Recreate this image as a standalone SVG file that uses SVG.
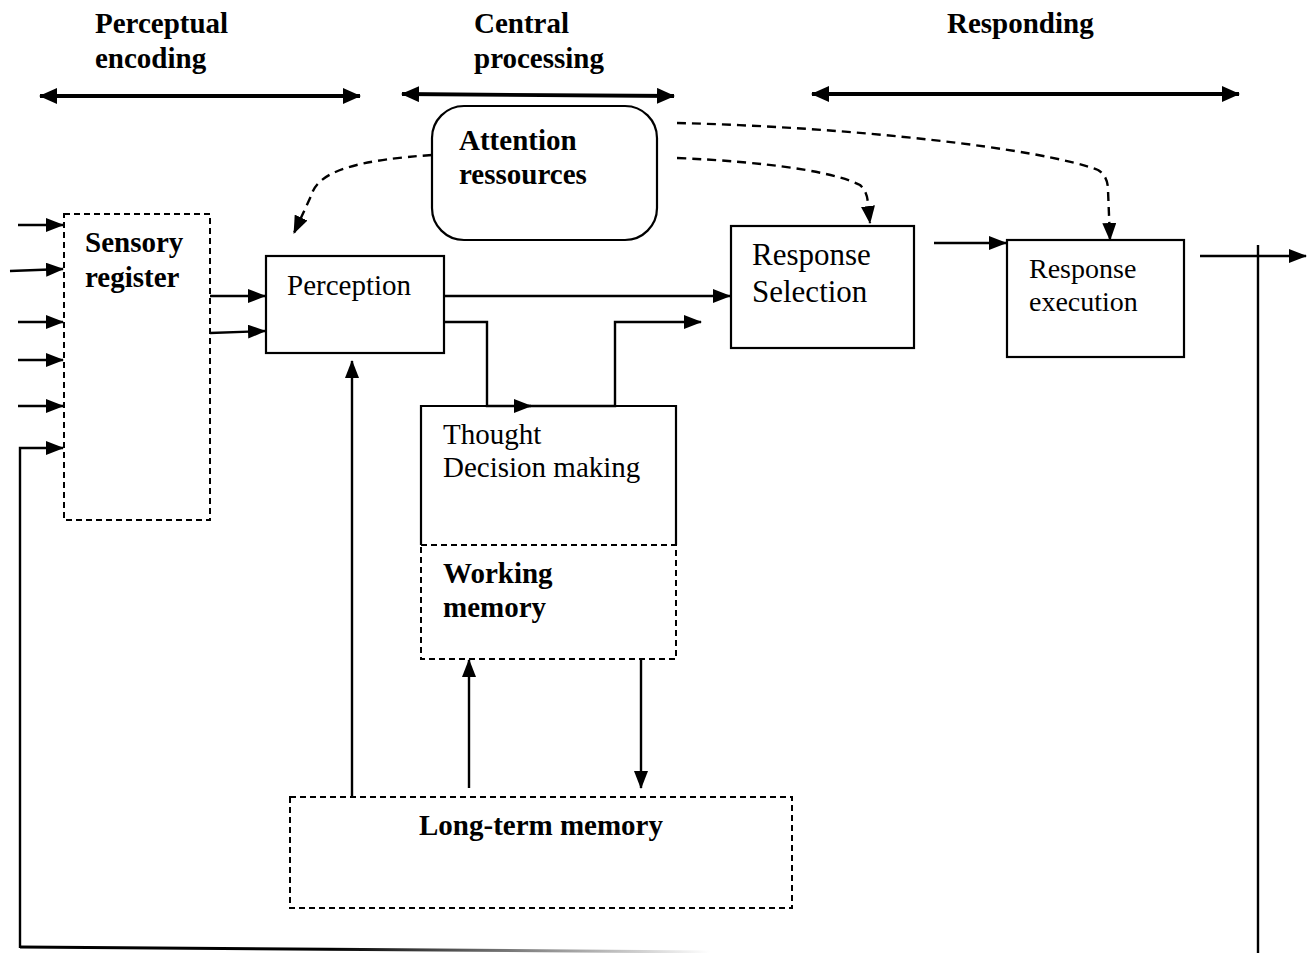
<svg xmlns="http://www.w3.org/2000/svg" width="1314" height="953" viewBox="0 0 1314 953">
<style>
.box{fill:#fff;stroke:#000;stroke-width:2.2}
.dbox{fill:none;stroke:#000;stroke-width:2;stroke-dasharray:6 4}
.ln{fill:none;stroke:#000;stroke-width:2.4}
.dl{fill:none;stroke:#000;stroke-width:2.4;stroke-dasharray:9 6}
.dbl{fill:none;stroke:#000;stroke-width:3.8}
.t{font-family:"Liberation Serif","Times New Roman",serif;font-size:29px;fill:#000}
.b{font-weight:bold}
</style>
<defs>
<marker id="ar" markerUnits="userSpaceOnUse" markerWidth="18" markerHeight="14" refX="17" refY="7" orient="auto"><path d="M0,0 L18,7 L0,14 z" fill="#000"/></marker>
<marker id="ar2" markerUnits="userSpaceOnUse" markerWidth="18" markerHeight="16" refX="17" refY="8" orient="auto-start-reverse"><path d="M0,0 L18,8 L0,16 z" fill="#000"/></marker>
<linearGradient id="fade" gradientUnits="userSpaceOnUse" x1="20" y1="0" x2="710" y2="0">
<stop offset="0" stop-color="#000"/><stop offset="0.45" stop-color="#000"/><stop offset="1" stop-color="#fff"/>
</linearGradient>
</defs>

<g id="headers">
<text class="t b" x="95" y="33">Perceptual</text>
<text class="t b" x="95" y="68">encoding</text>
<text class="t b" x="474" y="33">Central</text>
<text class="t b" x="474" y="68">processing</text>
<text class="t b" x="947" y="33">Responding</text>
<line class="dbl" x1="40" y1="96" x2="360" y2="96" marker-start="url(#ar2)" marker-end="url(#ar2)"/>
<line class="dbl" x1="402" y1="94" x2="674" y2="96" marker-start="url(#ar2)" marker-end="url(#ar2)"/>
<line class="dbl" x1="812" y1="94" x2="1239" y2="94" marker-start="url(#ar2)" marker-end="url(#ar2)"/>
</g>

<g id="connectors">
<line class="ln" x1="18" y1="225" x2="63" y2="225" marker-end="url(#ar)"/>
<line class="ln" x1="10" y1="271" x2="63" y2="269" marker-end="url(#ar)"/>
<line class="ln" x1="18" y1="322" x2="63" y2="322" marker-end="url(#ar)"/>
<line class="ln" x1="18" y1="360" x2="63" y2="360" marker-end="url(#ar)"/>
<line class="ln" x1="18" y1="406" x2="63" y2="406" marker-end="url(#ar)"/>
<polyline class="ln" points="20,948 20,448 63,448" marker-end="url(#ar)"/>
<line x1="20" y1="947" x2="710" y2="952" stroke="url(#fade)" stroke-width="3"/>
<line class="ln" x1="210" y1="296" x2="265" y2="296" marker-end="url(#ar)"/>
<line class="ln" x1="210" y1="333" x2="265" y2="331" marker-end="url(#ar)"/>
<line class="ln" x1="444" y1="296" x2="730" y2="296" marker-end="url(#ar)"/>
<polyline class="ln" points="444,322 487,322 487,406 531,406" marker-end="url(#ar)"/>
<polyline class="ln" points="528,406 615,406 615,322 701,322" marker-end="url(#ar)"/>
<line class="ln" x1="934" y1="243" x2="1006" y2="243" marker-end="url(#ar)"/>
<line class="ln" x1="1200" y1="256" x2="1306" y2="256" marker-end="url(#ar)"/>
<line class="ln" x1="1258" y1="245" x2="1258" y2="953"/>
<line class="ln" x1="352" y1="797" x2="352" y2="361" marker-end="url(#ar)"/>
<line class="ln" x1="469" y1="788" x2="469" y2="660" marker-end="url(#ar)"/>
<line class="ln" x1="641" y1="659" x2="641" y2="788" marker-end="url(#ar)"/>
<path class="dl" d="M432,155 C360,160 318,170 311,196 L294,233" marker-end="url(#ar)"/>
<path class="dl" d="M677,158 C770,162 835,172 860,185 Q868,192 868,206 L870,223" marker-end="url(#ar)"/>
<path class="dl" d="M677,123 C850,127 1040,148 1098,170 Q1108,176 1108,190 L1110,240" marker-end="url(#ar)"/>
</g>

<g id="attention">
<rect class="box" x="432" y="106" width="225" height="134" rx="32" ry="32"/>
<text class="t b" x="459" y="150">Attention</text>
<text class="t b" x="459" y="184">ressources</text>
</g>

<g id="sensory-register">
<rect class="dbox" x="64" y="214" width="146" height="306"/>
<text class="t b" x="85" y="252">Sensory</text>
<text class="t b" x="85" y="287">register</text>
</g>

<g id="perception">
<rect class="box" x="266" y="256" width="178" height="97"/>
<text class="t" x="287" y="295">Perception</text>
</g>

<g id="thought">
<polyline class="box" style="fill:none" points="421,545 421,406 676,406 676,545"/>
<text class="t" x="443" y="444">Thought</text>
<text class="t" x="443" y="477">Decision making</text>
</g>

<g id="working-memory">
<rect class="dbox" x="421" y="545" width="255" height="114"/>
<text class="t b" x="443" y="583">Working</text>
<text class="t b" x="443" y="617">memory</text>
</g>

<g id="response-selection">
<rect class="box" x="731" y="226" width="183" height="122"/>
<text class="t" x="752" y="265" style="font-size:31px">Response</text>
<text class="t" x="752" y="302" style="font-size:31px">Selection</text>
</g>

<g id="response-execution">
<rect class="box" x="1007" y="240" width="177" height="117"/>
<text class="t" x="1029" y="278" style="font-size:28px">Response</text>
<text class="t" x="1029" y="311" style="font-size:28px">execution</text>
</g>

<g id="long-term-memory">
<rect class="dbox" x="290" y="797" width="502" height="111"/>
<text class="t b" x="541" y="835" text-anchor="middle" style="font-size:29px">Long-term memory</text>
</g>
</svg>
